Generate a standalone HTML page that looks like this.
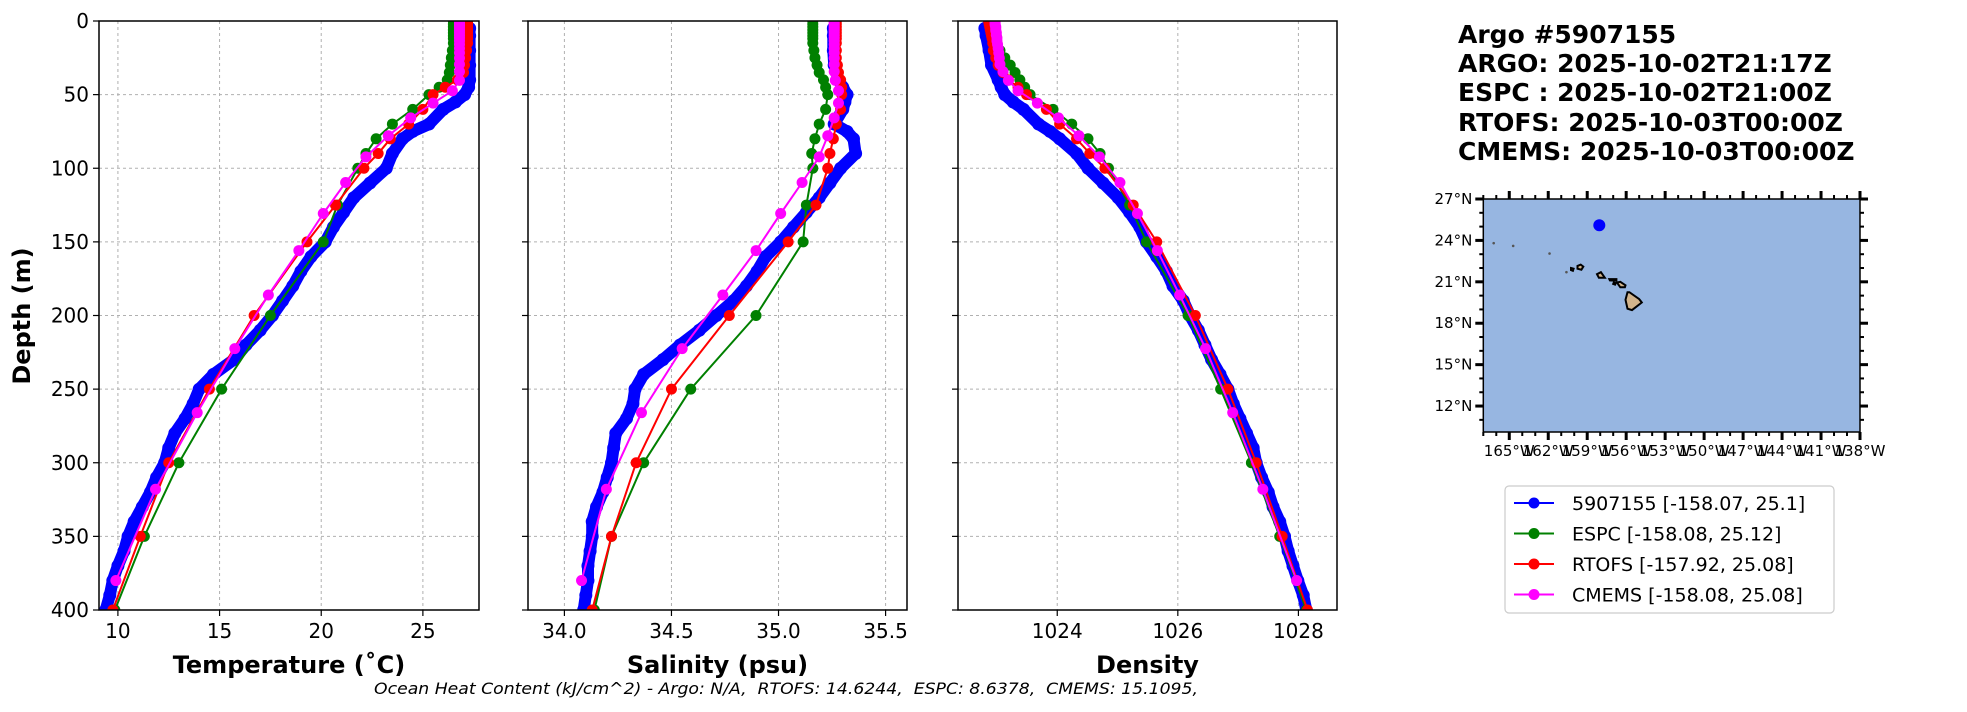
<!DOCTYPE html>
<html><head><meta charset="utf-8"><style>
html,body{margin:0;padding:0;background:#fff;}
svg{display:block;font-family:"DejaVu Sans","Liberation Sans",sans-serif;}
</style></head><body>
<svg id="fig" width="1967" height="712" viewBox="0 0 1967 712" xmlns="http://www.w3.org/2000/svg">
<g id="panels"></g>
<g id="map"></g>
<g font-weight="bold" font-size="25" fill="#000">
<text x="1458" y="43">Argo #5907155</text>
<text x="1458" y="72">ARGO: 2025-10-02T21:17Z</text>
<text x="1458" y="101">ESPC : 2025-10-02T21:00Z</text>
<text x="1458" y="131">RTOFS: 2025-10-03T00:00Z</text>
<text x="1458" y="160">CMEMS: 2025-10-03T00:00Z</text>
</g>
<text x="786" y="694" text-anchor="middle" font-style="italic" font-size="16" style="white-space:pre" textLength="824" lengthAdjust="spacingAndGlyphs">Ocean Heat Content (kJ/cm^2) - Argo: N/A,  RTOFS: 14.6244,  ESPC: 8.6378,  CMEMS: 15.1095,</text>
<g id="legend"></g>
</svg>
<script>
const NS="http://www.w3.org/2000/svg";
// ---- data ----
const argoDepth=[5,10,20,30,40,45,50,55,60,70,75,80,90,100,110,120,130,140,150,160,170,180,190,200,210,220,230,240,250,260,270,280,290,300,310,320,330,340,350,360,370,380,390,400];
const argoTemp=[27.3,27.3,27.3,27.3,27.3,27.25,27.05,26.6,26.0,25.3,24.5,24.0,23.5,23.2,22.4,21.6,21.1,20.6,20.2,19.5,19.0,18.6,18.1,17.6,17.0,16.3,15.7,14.7,14.0,13.7,13.3,12.8,12.5,12.3,11.9,11.6,11.2,10.8,10.5,10.3,10.0,9.75,9.6,9.4];
const argoSal=[35.256,35.256,35.256,35.26,35.28,35.30,35.32,35.31,35.30,35.26,35.32,35.35,35.36,35.29,35.24,35.19,35.13,35.07,35.01,34.94,34.90,34.85,34.79,34.71,34.63,34.54,34.46,34.37,34.33,34.32,34.29,34.24,34.23,34.22,34.20,34.18,34.15,34.13,34.13,34.12,34.11,34.11,34.10,34.09];
const argoDen=[1022.80,1022.82,1022.87,1022.91,1023.02,1023.07,1023.13,1023.27,1023.44,1023.69,1023.88,1024.04,1024.32,1024.51,1024.76,1025.01,1025.20,1025.37,1025.48,1025.65,1025.81,1025.92,1026.09,1026.20,1026.34,1026.45,1026.56,1026.70,1026.83,1026.92,1027.03,1027.14,1027.25,1027.30,1027.39,1027.50,1027.58,1027.69,1027.77,1027.83,1027.91,1027.99,1028.08,1028.13];

const espcDepth=[0,2,4,6,8,10,12,15,20,25,30,35,40,45,50,60,70,80,90,100,125,150,200,250,300,350,400];
const espcTemp=[26.5,26.5,26.5,26.5,26.5,26.5,26.5,26.5,26.45,26.4,26.35,26.3,26.2,25.8,25.3,24.5,23.5,22.7,22.2,21.8,20.8,20.1,17.5,15.1,13.0,11.3,9.85];
const espcSal=[35.16,35.16,35.16,35.16,35.16,35.16,35.16,35.16,35.165,35.17,35.18,35.19,35.21,35.22,35.23,35.22,35.19,35.17,35.155,35.16,35.13,35.115,34.895,34.59,34.37,34.22,34.14];
const espcDen=[1022.94,1022.95,1022.95,1022.96,1022.96,1022.97,1022.98,1023.0,1023.05,1023.13,1023.22,1023.30,1023.38,1023.46,1023.55,1023.93,1024.24,1024.51,1024.71,1024.85,1025.20,1025.48,1026.17,1026.71,1027.22,1027.69,1028.13];

const rtofsDepth=[0,2,4,6,8,10,12,15,20,25,30,35,40,45,50,60,70,80,90,100,125,150,200,250,300,350,400];
const rtofsTemp=[27.2,27.2,27.2,27.2,27.2,27.2,27.2,27.2,27.15,27.1,27.05,27.0,26.7,26.1,25.5,25.0,24.3,23.4,22.8,22.1,20.7,19.3,16.7,14.5,12.5,11.1,9.75];
const rtofsSal=[35.27,35.27,35.27,35.27,35.27,35.27,35.27,35.27,35.27,35.27,35.275,35.28,35.29,35.295,35.295,35.29,35.27,35.256,35.24,35.23,35.175,35.045,34.77,34.50,34.335,34.22,34.13];
const rtofsDen=[1022.86,1022.87,1022.88,1022.89,1022.90,1022.91,1022.92,1022.93,1022.94,1022.98,1023.02,1023.10,1023.19,1023.35,1023.49,1023.82,1024.04,1024.32,1024.54,1024.79,1025.26,1025.65,1026.29,1026.83,1027.30,1027.73,1028.15];

const cmemsDepth=[0.5,1.5,2.6,3.8,5,6.4,7.9,9.6,11.4,13.5,15.8,18.5,21.6,25.2,29.4,34.4,40.3,47.4,55.8,65.8,77.9,92.3,109.7,130.7,155.9,186.1,222.5,266,318,380];
const cmemsTemp=[26.8,26.8,26.8,26.8,26.8,26.8,26.8,26.8,26.8,26.8,26.8,26.8,26.8,26.8,26.8,26.8,26.8,26.45,25.5,24.4,23.3,22.2,21.2,20.1,18.9,17.4,15.75,13.9,11.85,9.9];
const cmemsSal=[35.26,35.26,35.26,35.26,35.26,35.26,35.26,35.26,35.26,35.26,35.26,35.26,35.26,35.26,35.26,35.26,35.265,35.28,35.28,35.26,35.23,35.19,35.11,35.01,34.895,34.74,34.55,34.36,34.196,34.08];
const cmemsDen=[1022.97,1022.97,1022.97,1022.98,1022.98,1022.98,1022.99,1022.99,1023.0,1023.0,1023.01,1023.02,1023.03,1023.04,1023.05,1023.10,1023.19,1023.35,1023.67,1024.02,1024.36,1024.70,1025.04,1025.33,1025.66,1026.03,1026.46,1026.91,1027.41,1027.97];

const depthTicks=[0,50,100,150,200,250,300,350,400];
const tempTicks=[10,15,20,25];
const salTicks=[34.0,34.5,35.0,35.5];
const salTickLabels=["34.0","34.5","35.0","35.5"];
const denTicks=[1024,1026,1028];
const legendLabels=["5907155 [-158.07, 25.1]","ESPC [-158.08, 25.12]","RTOFS [-157.92, 25.08]","CMEMS [-158.08, 25.08]"];
const lonTicks=[-165,-162,-159,-156,-153,-150,-147,-144,-141,-138];
const latTicks=[12,15,18,21,24,27];
const floatLon=[-158.07], floatLat=[25.1];

function el(tag,attrs,parent){const e=document.createElementNS(NS,tag);for(const k in attrs)e.setAttribute(k,attrs[k]);if(parent)parent.appendChild(e);return e;}

const Y0=21,Y1=610;
const yScale=d=>Y0+(d/400)*(Y1-Y0);
const panels=[
 {name:"temperature",x0:99,x1:479,v0:9.07,v1:27.76,ticks:tempTicks,labels:tempTicks.map(String),title:"Temperature (˚C)",key:"Temp",ylabels:true},
 {name:"salinity",x0:528,x1:907,v0:33.83,v1:35.60,ticks:salTicks,labels:salTickLabels,title:"Salinity (psu)",key:"Sal",ylabels:false},
 {name:"density",x0:958,x1:1337,v0:1022.354,v1:1028.64,ticks:denTicks,labels:denTicks.map(String),title:"Density",key:"Den",ylabels:false}
];
const series=[
 {name:"argo",color:"#0000ff",depth:argoDepth,Temp:argoTemp,Sal:argoSal,Den:argoDen,r:6.5,lw:12},
 {name:"espc",color:"#008000",depth:espcDepth,Temp:espcTemp,Sal:espcSal,Den:espcDen,r:5.5,lw:2},
 {name:"rtofs",color:"#ff0000",depth:rtofsDepth,Temp:rtofsTemp,Sal:rtofsSal,Den:rtofsDen,r:5.5,lw:2},
 {name:"cmems",color:"#ff00ff",depth:cmemsDepth,Temp:cmemsTemp,Sal:cmemsSal,Den:cmemsDen,r:5.5,lw:2}
];
const root=document.getElementById('panels');
panels.forEach(p=>{
 const xs=v=>p.x0+(v-p.v0)/(p.v1-p.v0)*(p.x1-p.x0);
 const g=el('g',{},root);
 
 
 const clipId='clip-'+p.name;
 const cp=el('clipPath',{id:clipId},g);el('rect',{x:p.x0,y:Y0,width:p.x1-p.x0,height:Y1-Y0},cp);
 depthTicks.forEach(d=>{const l=el('line',{x1:p.x0,x2:p.x1,y1:yScale(d),y2:yScale(d),stroke:"#b0b0b0","stroke-width":1,"stroke-dasharray":"3,3"},g);
  });
 p.ticks.forEach(v=>{const l=el('line',{x1:xs(v),x2:xs(v),y1:Y0,y2:Y1,stroke:"#b0b0b0","stroke-width":1,"stroke-dasharray":"3,3"},g);
  });
 const sg=el('g',{"clip-path":"url(#"+clipId+")"},g);
 series.forEach(s=>{
  const vals=s[p.key];
  const pts=s.depth.map((d,i)=>xs(vals[i]).toFixed(1)+','+yScale(d).toFixed(1)).join(' ');
  const line=el('polyline',{points:pts,fill:"none",stroke:s.color,"stroke-width":s.lw,"stroke-linejoin":"round","stroke-linecap":"round"},sg);
  
  s.depth.forEach((d,i)=>{const c=el('circle',{cx:xs(vals[i]),cy:yScale(d),r:s.r,fill:s.color},sg);
   });
 });
 const fr=el('rect',{x:p.x0,y:Y0,width:p.x1-p.x0,height:Y1-Y0,fill:"none",stroke:"#000","stroke-width":1.5},g);
 
 depthTicks.forEach(d=>{el('line',{x1:p.x0-6,x2:p.x0,y1:yScale(d),y2:yScale(d),stroke:"#000","stroke-width":1.2},g);
  if(p.ylabels){const t=el('text',{x:p.x0-10,y:yScale(d)+7,"text-anchor":"end","font-size":20},g);t.textContent=String(d);
   }});
 p.ticks.forEach((v,i)=>{el('line',{x1:xs(v),x2:xs(v),y1:Y1,y2:Y1+6,stroke:"#000","stroke-width":1.2},g);
  const t=el('text',{x:xs(v),y:Y1+28,"text-anchor":"middle","font-size":20},g);t.textContent=p.labels[i];
  });
 const at=el('text',{x:(p.x0+p.x1)/2,y:673,"text-anchor":"middle","font-size":24,"font-weight":"bold"},g);at.textContent=p.title;
 
});
const yt=el('text',{x:0,y:0,"text-anchor":"middle","font-size":24,"font-weight":"bold",transform:"translate(30,316) rotate(-90)"},root);
yt.textContent="Depth (m)";



// ---- map ----
const M={x0:1483.3,x1:1860,y0:199,y1:432,lon0:-167,lon1:-138,lat0:10.12,lat1:27};
const mx=l=>M.x0+(l-M.lon0)/(M.lon1-M.lon0)*(M.x1-M.x0);
const my=l=>M.y1-(l-M.lat0)/(M.lat1-M.lat0)*(M.y1-M.y0);
const mg=document.getElementById('map');
const oc=el('rect',{x:M.x0,y:M.y0,width:M.x1-M.x0,height:M.y1-M.y0,fill:"#97b6e1"},mg);

const islands=[
 [[-155.9,20.25],[-155.75,20.25],[-155.0,19.75],[-154.8,19.5],[-155.55,18.95],[-155.9,19.05],[-156.05,19.7]],
 [[-156.7,20.95],[-156.45,21.0],[-156.05,20.75],[-156.1,20.6],[-156.45,20.6],[-156.6,20.8]],
 [[-157.3,21.2],[-156.75,21.2],[-156.75,21.08],[-157.25,21.1]],
 [[-158.25,21.55],[-157.95,21.7],[-157.65,21.3],[-158.1,21.3]],
 [[-159.75,22.15],[-159.5,22.25],[-159.3,22.1],[-159.45,21.88],[-159.75,21.95]],
 [[-160.25,22.0],[-160.05,21.95],[-160.1,21.8],[-160.25,21.85]],
 [[-156.95,20.95],[-156.8,20.9],[-156.85,20.8],[-157.0,20.85]]
];
islands.forEach(poly=>{const pg=el('polygon',{points:poly.map(p=>mx(p[0]).toFixed(1)+','+my(p[1]).toFixed(1)).join(' '),fill:"#d2b48c",stroke:"#000","stroke-width":2},mg);
 });
[[-166.2,23.8],[-164.7,23.6],[-161.9,23.05],[-160.6,21.7]].forEach(p=>{const c=el('circle',{cx:mx(p[0]),cy:my(p[1]),r:1.3,fill:"#555"},mg);
 });
floatLon.forEach((l,i)=>{const c=el('circle',{cx:mx(l),cy:my(floatLat[i]),r:6,fill:"#0000ff"},mg);
 });
const mf=el('rect',{x:M.x0,y:M.y0,width:M.x1-M.x0,height:M.y1-M.y0,fill:"none",stroke:"#000","stroke-width":1.5},mg);

for(let l=-167;l<=-138;l++){const maj=lonTicks.includes(l);const L=maj?8:4;const w=maj?3:2;
 el('line',{x1:mx(l),x2:mx(l),y1:M.y1,y2:M.y1+L,stroke:"#000","stroke-width":w},mg);
 el('line',{x1:mx(l),x2:mx(l),y1:M.y0,y2:M.y0-L,stroke:"#000","stroke-width":w},mg);}
for(let l=11;l<=27;l++){const maj=latTicks.includes(l);const L=maj?8:4;const w=maj?3:2;
 el('line',{x1:M.x0-L,x2:M.x0,y1:my(l),y2:my(l),stroke:"#000","stroke-width":w},mg);
 el('line',{x1:M.x1,x2:M.x1+L,y1:my(l),y2:my(l),stroke:"#000","stroke-width":w},mg);}
lonTicks.forEach(l=>{const t=el('text',{x:mx(l),y:M.y1+24,"text-anchor":"middle","font-size":15},mg);t.textContent=Math.abs(l)+"°W";
 });
latTicks.forEach(l=>{const t=el('text',{x:M.x0-11,y:my(l)+5,"text-anchor":"end","font-size":15},mg);t.textContent=l+"°N";
 });

// ---- legend ----
const lg=document.getElementById('legend');
const lb=el('rect',{x:1505,y:486,width:329,height:127,rx:4,fill:"#fff",stroke:"#cccccc","stroke-width":1.2},lg);

series.forEach((s,i)=>{const y=503+i*30.5;const g=el('g',{},lg);
 
 el('line',{x1:1514,x2:1554,y1:y,y2:y,stroke:s.color,"stroke-width":2},g);
 el('circle',{cx:1534,cy:y,r:5.5,fill:s.color},g);
 const t=el('text',{x:1572,y:y+7,"font-size":19},g);t.textContent=legendLabels[i];});
</script>
</body></html>
